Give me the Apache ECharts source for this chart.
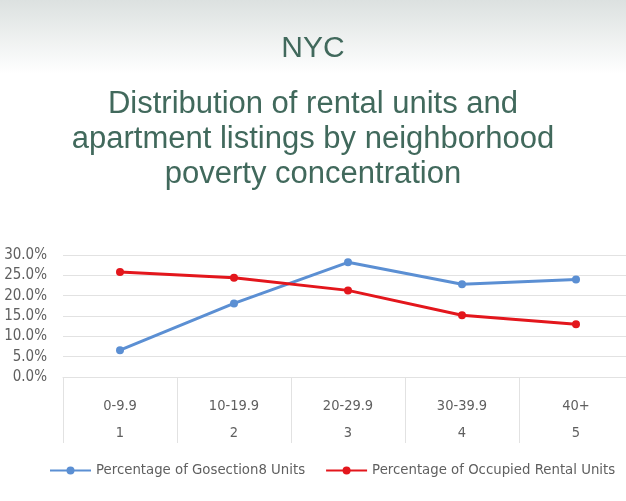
<!DOCTYPE html>
<html>
<head>
<meta charset="utf-8">
<script src="https://cdn.jsdelivr.net/npm/echarts@6/dist/echarts.min.js"></script>
<style>
  html, body { margin: 0; padding: 0; background: #fff; }
  #chart { width: 626px; height: 501px; }
</style>
</head>
<body>
<div id="chart"></div>
<script>
// poverty concentration bands and their index row
const povertyBands = ['0-9.9', '10-19.9', '20-29.9', '30-39.9', '40+']
const bandIndex = ['1', '2', '3', '4', '5']

// percentages
const section8Units = [6.6, 18.1, 28.2, 22.8, 24.0]
const occupiedRental = [25.8, 24.4, 21.3, 15.2, 13.0]

const yTicks = [0, 5, 10, 15, 20, 25, 30]

const titleColor = '#41695c'
const labelColor = '#5f5f5f'

const chart = echarts.init(document.getElementById('chart'))

chart.setOption({
  animation: false,
  backgroundColor: '#fff',
  graphic: [{
    type: 'rect',
    left: 0, top: 0,
    shape: { width: 626, height: 74 },
    style: {
      fill: new echarts.graphic.LinearGradient(0, 0, 0, 1, [
        { offset: 0, color: '#dce1e0' },
        { offset: 1, color: '#ffffff' }
      ])
    },
    z: -1
  }, {
    type: 'text',
    x: 313,
    y: 34,
    style: {
      text: 'NYC',
      align: 'center',
      verticalAlign: 'top',
      fontFamily: 'Liberation Sans',
      fontSize: 30,
      fill: titleColor
    }
  }, {
    type: 'text',
    x: 313,
    y: 87,
    style: {
      text: 'Distribution of rental units and\napartment listings by neighborhood\npoverty concentration',
      align: 'center',
      verticalAlign: 'top',
      fontFamily: 'Liberation Sans',
      fontSize: 31,
      lineHeight: 35,
      fill: titleColor
    }
  }],
  legend: {
    bottom: 19,
    left: 44,
    width: 620,
    itemWidth: 41,
    itemHeight: 10,
    itemGap: 20,
    textStyle: { fontFamily: 'DejaVu Sans', fontSize: 13.3, color: labelColor },
    data: ['Percentage of Gosection8 Units', 'Percentage of Occupied Rental Units']
  },
  grid: { left: 63, top: 255, right: -7, height: 122, outerBoundsMode: 'none' },
  xAxis: {
    type: 'category',
    data: povertyBands,
    boundaryGap: true,
    axisLine: { lineStyle: { color: '#e2e2e2', width: 1 } },
    axisTick: { show: true, length: 66, lineStyle: { color: '#e2e2e2' } },
    axisLabel: {
      margin: 16,
      fontFamily: 'DejaVu Sans Condensed',
      fontSize: 14.5,
      color: labelColor,
      lineHeight: 27,
      formatter: (v, i) => v + '\n' + bandIndex[i]
    }
  },
  yAxis: {
    type: 'value',
    min: yTicks[0],
    max: yTicks[yTicks.length - 1],
    interval: 5,
    axisLine: { show: false },
    axisTick: { show: false },
    splitLine: { lineStyle: { color: '#e2e2e2', width: 1 } },
    axisLabel: {
      margin: 16,
      fontFamily: 'DejaVu Sans Condensed',
      fontSize: 15,
      color: labelColor,
      formatter: v => v.toFixed(1) + '%'
    }
  },
  series: [{
    name: 'Percentage of Gosection8 Units',
    type: 'line',
    data: section8Units,
    symbol: 'circle',
    symbolSize: 8,
    lineStyle: { width: 3, color: '#5b8fd3' },
    itemStyle: { color: '#5b8fd3' }
  }, {
    name: 'Percentage of Occupied Rental Units',
    type: 'line',
    data: occupiedRental,
    symbol: 'circle',
    symbolSize: 8,
    lineStyle: { width: 3, color: '#e3161c' },
    itemStyle: { color: '#e3161c' }
  }]
})
</script>
</body>
</html>
